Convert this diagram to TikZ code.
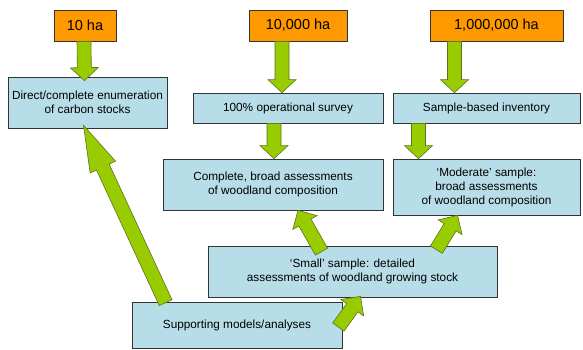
\documentclass[tikz,border=0pt]{standalone}
\usepackage{fontspec}
\setmainfont{Liberation Sans}
\usepackage{tikz}
\usetikzlibrary{calc}

\definecolor{haorange}{RGB}{255,153,0}
\definecolor{boxblue}{RGB}{183,222,232}
\definecolor{arrowgreen}{RGB}{153,204,0}
\definecolor{arrowline}{RGB}{90,115,30}

% block arrow from #2 to #3, head length #1
\newcommand{\fatarrow}[3][13pt]{%
	\coordinate (fa-s) at (#2);
	\coordinate (fa-e) at (#3);
	\coordinate (fa-h) at ($(fa-e)!#1!(fa-s)$);
	\filldraw [bigarrow] ($(fa-s)!7pt!90:(fa-e)$) -- ($(fa-h)!7pt!90:(fa-e)$)
		-- ($(fa-h)!14pt!90:(fa-e)$) -- (fa-e) -- ($(fa-h)!14pt!-90:(fa-e)$)
		-- ($(fa-h)!7pt!-90:(fa-e)$) -- ($(fa-s)!7pt!-90:(fa-e)$) -- cycle;
}

\begin{document}
\begin{tikzpicture}[x=1pt, y=-1pt,
	habox/.style={draw=black!80, line width=0.7pt, fill=haorange, inner sep=0pt,
		minimum height=31pt, font=\fontsize{14.5}{16}\selectfont},
	stagebox/.style={draw=black!80, line width=0.7pt, fill=boxblue, inner sep=0pt,
		align=center, font=\fontsize{11.8}{14}\selectfont},
	bigarrow/.style={fill=arrowgreen, draw=arrowline, line width=0.6pt, line join=miter}]
		%				\draw [help lines] (0,0) grid (583,349);
		\useasboundingbox (0,0) rectangle (583,349);
		% areas
		\node [habox, minimum width=62pt] (ha10) at (85,25.5) {10 ha};
		\node [habox, minimum width=98pt] (ha10k) at (298,25.5) {10,000 ha};
		\node [habox, minimum width=133pt] (ha1m) at (496.5,25.5) {1,000,000 ha};
		% assessments
		\node [stagebox, minimum width=159pt, minimum height=51pt] (direct) at (87.5,102.5)
			{Direct/complete enumeration\\of carbon stocks};
		\node [stagebox, minimum width=190pt, minimum height=30pt] (survey) at (288,108)
			{100\% operational survey};
		\node [stagebox, minimum width=187pt, minimum height=30pt] (sample) at (486.5,108)
			{Sample-based inventory};
		\node [stagebox, minimum width=220pt, minimum height=51pt] (complete) at (273,184.5)
			{Complete, broad assessments\\of woodland composition};
		\node [stagebox, minimum width=187pt, minimum height=56pt] (moderate) at (486.5,187)
			{‘Moderate’ sample:\\broad assessments\\of woodland composition};
		\node [stagebox, minimum width=289pt, minimum height=51pt] (small) at (352.5,271.5)
			{‘Small’ sample: detailed\\assessments of woodland growing stock};
		\node [stagebox, minimum width=210pt, minimum height=46pt] (supp) at (237,325)
			{Supporting models/analyses};
		% arrows
		\fatarrow{$(ha10.south)+(-1,0)$}{$(direct.north)+(-3,4)$}
		\fatarrow{$(ha10k.south)+(-16,0)$}{$(survey.north)+(-6,0)$}
		\fatarrow{$(ha1m.south)+(-42,0)$}{$(sample.north)+(-32,0)$}
		\fatarrow{$(survey.south)+(-14,0)$}{$(complete.north)+(1,0)$}
		\fatarrow{$(sample.south)+(-68,0)$}{$(moderate.north)+(-68,0)$}
		\fatarrow[46pt]{$(supp.north west)+(34,1)$}{$(direct.south)+(-4,-3)$}
		\fatarrow[14pt]{$(small.north)+(-31,6)$}{$(complete.south)+(25,0)$}
		\fatarrow[14pt]{$(small.north east)+(-61,4)$}{$(moderate.south)+(-29,0)$}
		\fatarrow[14pt]{$(supp.east)+(-4,2)$}{$(small.south)+(8,-1)$}
	\end{tikzpicture}
\end{document}
